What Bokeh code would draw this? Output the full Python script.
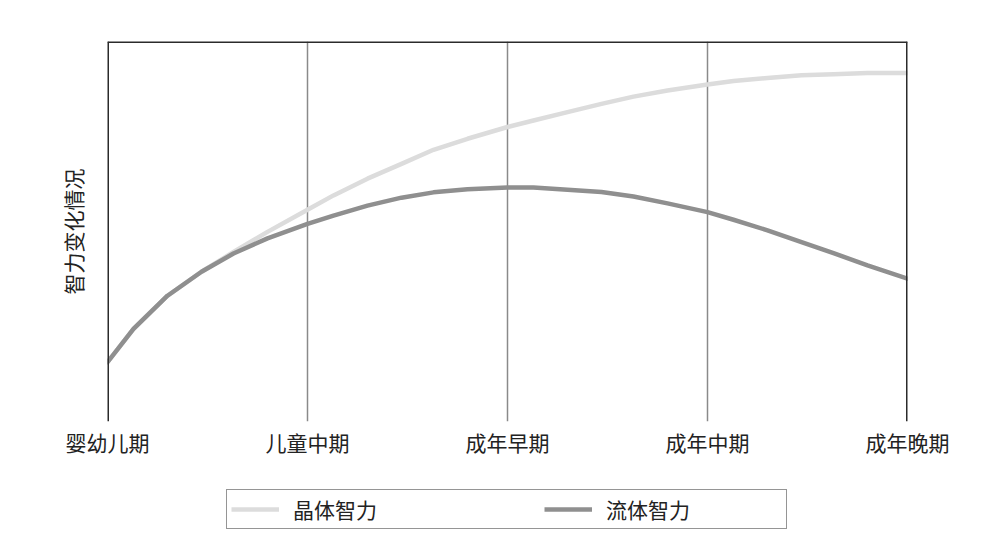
import numpy as np
from bokeh.plotting import figure
from bokeh.layouts import column
from bokeh.models import Range1d, FixedTicker, Span, Legend, LegendItem
from bokeh.embed import file_html
from bokeh.resources import INLINE

# Life stages along the horizontal axis
stages = ["婴幼儿期", "儿童中期", "成年早期", "成年中期", "成年晚期"]

# Positions (in stage units) at which each curve is sampled
stage_pos = [0, 0.13, 0.3, 0.47, 0.63, 0.8, 1, 1.13, 1.3, 1.47, 1.63, 1.8, 2,
             2.13, 2.3, 2.47, 2.63, 2.8, 3, 3.13, 3.3, 3.47, 3.63, 3.8, 4]

# Crystallized intelligence: keeps rising and levels off late in life
crystal = [15.6, 24.4, 33.1, 39.4, 44.6, 49.9, 55.7, 59.5, 63.9, 67.8, 71.5, 74.4, 77.5,
           79.2, 81.4, 83.6, 85.5, 87.1, 88.7, 89.6, 90.4, 91.1, 91.4, 91.7, 91.7]

# Fluid intelligence: peaks in early adulthood, then declines
fluid = [15.6, 24.4, 33.1, 39.4, 44.2, 48.2, 52.0, 54.2, 56.8, 58.9, 60.3, 61.1, 61.6,
         61.6, 61.0, 60.4, 59.2, 57.4, 55.1, 53.1, 50.3, 47.2, 44.3, 41.1, 37.6]

series_names = ["晶体智力", "流体智力"]
series_colors = ["#dcdcdc", "#8f8f8f"]

FONT = "Noto Sans CJK SC"
TEXT = "#222222"

# ---- main chart -------------------------------------------------------
p = figure(width=994, height=470, output_backend="svg", toolbar_location=None,
           x_range=Range1d(0, 4), y_range=Range1d(0, 100),
           min_border_left=107, min_border_right=87,
           min_border_top=41, min_border_bottom=49)
p.outline_line_color = None
p.background_fill_color = "white"
p.border_fill_color = "white"

# x axis: stage names under the vertical guide lines
p.xaxis.ticker = FixedTicker(ticks=list(range(len(stages))))
p.xaxis.major_label_overrides = {i: s for i, s in enumerate(stages)}
p.xaxis.axis_line_color = None
p.xaxis.major_tick_line_color = None
p.xaxis.minor_tick_line_color = None
p.xaxis.major_tick_out = 0
p.xaxis.major_tick_in = 0
p.xaxis.major_label_text_font = FONT
p.xaxis.major_label_text_font_size = "21px"
p.xaxis.major_label_text_color = TEXT
p.xaxis.major_label_standoff = 5

# y axis: title only
p.yaxis.ticker = FixedTicker(ticks=[])
p.yaxis.axis_line_color = None
p.yaxis.major_tick_line_color = None
p.yaxis.minor_tick_line_color = None
p.yaxis.major_tick_out = 0
p.yaxis.major_tick_in = 0
p.yaxis.major_label_standoff = 0
p.yaxis.axis_label = "智力变化情况"
p.yaxis.axis_label_text_font = FONT
p.yaxis.axis_label_text_font_size = "21px"
p.yaxis.axis_label_text_font_style = "normal"
p.yaxis.axis_label_text_color = TEXT
p.yaxis.axis_label_standoff = 20

# vertical guide lines at each stage
p.xgrid.ticker = FixedTicker(ticks=list(range(len(stages))))
p.xgrid.grid_line_color = "#8a8a8a"
p.xgrid.grid_line_width = 1.5
p.ygrid.grid_line_color = None

# frame edges: top, left and right
for loc, dim in [(100, "width"), (0, "height"), (4, "height")]:
    p.add_layout(Span(location=loc, dimension=dim, line_color="#2b2b2b", line_width=3))

p.line(stage_pos, crystal, line_color=series_colors[0], line_width=4.5,
       line_join="round", line_cap="round")
p.line(stage_pos, fluid, line_color=series_colors[1], line_width=4.5,
       line_join="round", line_cap="round")

# ---- legend strip -----------------------------------------------------
lg = figure(width=994, height=66, output_backend="svg", toolbar_location=None,
            x_range=Range1d(0, 1), y_range=Range1d(0, 1),
            min_border_left=0, min_border_right=0,
            min_border_top=0, min_border_bottom=0)
lg.outline_line_color = None
lg.axis.visible = False
lg.grid.visible = False
lg.border_fill_color = "white"

# line swatches for the key (style only, nothing plotted)
keys = [lg.line([np.nan], [np.nan], line_color=c, line_width=4.5) for c in series_colors]

legend = Legend(items=[LegendItem(label=n, renderers=[r]) for n, r in zip(series_names, keys)],
                orientation="horizontal", location=(119, 7))
legend.label_text_font = FONT
legend.label_text_font_size = "21px"
legend.label_text_color = TEXT
legend.glyph_width = 48
legend.glyph_height = 24
legend.label_height = 24
legend.label_standoff = 14
legend.label_width = 176
legend.spacing = 75
legend.padding = 4
legend.margin = 0
legend.border_line_color = "#2b2b2b"
legend.border_line_width = 1.5
legend.background_fill_alpha = 1
lg.add_layout(legend, "center")

layout = column(p, lg)
open("out.html", "w").write(file_html(layout, INLINE))
